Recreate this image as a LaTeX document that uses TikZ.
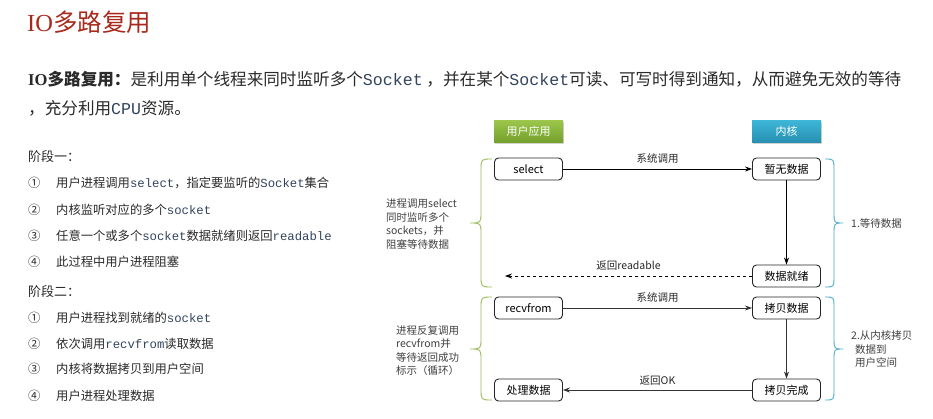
\documentclass[tikz,border=0pt]{standalone}
\usepackage{fontspec}
\setmainfont{Noto Sans CJK SC}
\newfontfamily\serifl{Liberation Serif}
\setmonofont{Liberation Mono}
\usetikzlibrary{arrows.meta,shadows}
\definecolor{titlered}{HTML}{A82A1C}
\definecolor{bodytext}{HTML}{2A2A2A}
\definecolor{codeblue}{HTML}{33445E}
\definecolor{sidegray}{HTML}{404040}
\definecolor{bracegreen}{HTML}{9BBB59}
\definecolor{braceblue}{HTML}{4BACC6}
\definecolor{greentop}{HTML}{9DC74B}
\definecolor{greenbot}{HTML}{74A02C}
\definecolor{bluetop}{HTML}{3EB7D8}
\definecolor{bluebot}{HTML}{2790B2}
\newcommand{\mono}[1]{{\ttfamily\color{codeblue}#1}}
\tikzset{
  txt/.style={anchor=west, inner sep=0pt, text=bodytext},
  listfont/.style={font=\fontsize{12.3}{15}\selectfont},
  header/.style={minimum width=69pt, minimum height=22pt, inner sep=0pt, text=white,
    font=\fontsize{11}{13}\selectfont, drop shadow={shadow xshift=1pt, shadow yshift=-1.5pt, opacity=0.35}},
  greenhdr/.style={header, top color=greentop, bottom color=greenbot},
  bluehdr/.style={header, top color=bluetop, bottom color=bluebot},
  procbox/.style={draw=black!85, line width=0.9pt, rounded corners=4pt, fill=white,
    minimum width=68pt, minimum height=22pt, inner sep=0pt, font=\fontsize{11}{13}\selectfont},
  callarrow/.style={-{Stealth[length=7pt,width=5pt]}, line width=0.8pt},
  lbl/.style={font=\fontsize{10.5}{12}\selectfont, inner sep=0pt, text=black!85},
  side/.style={font=\fontsize{10.5}{13.5}\selectfont, inner sep=0pt, align=left, text=sidegray},
  brace/.style={line width=0.9pt}
}
\begin{document}
\begin{tikzpicture}[x=1pt,y=-1pt]
\useasboundingbox[fill=white] (0,0) rectangle (933,418);

% title and paragraph
\node[txt, text=titlered, font=\fontsize{24.5}{28}\selectfont] (title) at (27,22) {{\serifl IO}多路复用};
\node[txt, font=\fontsize{16.6}{20}\selectfont] (p1) at (28,79)
  {\textbf{{\serifl\bfseries IO}多路复用：}是利用单个线程来同时监听多个\mono{Socket} ，并在某个\mono{Socket}可读、可写时得到通知，从而避免无效的等待};
\node[txt, font=\fontsize{16.6}{20}\selectfont] (p2) at (28,108) {，充分利用\mono{CPU}资源。};

% phase one
\node[txt, font=\fontsize{13}{15}\selectfont] (ph1) at (28,157) {阶段一：};
\node[txt, listfont] (n11) at (28,183) {①};
\node[txt, listfont] (t11) at (56,183) {用户进程调用\mono{select}，指定要监听的\mono{Socket}集合};
\node[txt, listfont] (n12) at (28,210) {②};
\node[txt, listfont] (t12) at (56,210) {内核监听对应的多个\mono{socket}};
\node[txt, listfont] (n13) at (28,236) {③};
\node[txt, listfont] (t13) at (56,236) {任意一个或多个\mono{socket}数据就绪则返回\mono{readable}};
\node[txt, listfont] (n14) at (28,262) {④};
\node[txt, listfont] (t14) at (56,262) {此过程中用户进程阻塞};

% phase two
\node[txt, font=\fontsize{13}{15}\selectfont] (ph2) at (28,292) {阶段二：};
\node[txt, listfont] (n21) at (28,318) {①};
\node[txt, listfont] (t21) at (56,318) {用户进程找到就绪的\mono{socket}};
\node[txt, listfont] (n22) at (28,344) {②};
\node[txt, listfont] (t22) at (56,344) {依次调用\mono{recvfrom}读取数据};
\node[txt, listfont] (n23) at (28,369) {③};
\node[txt, listfont] (t23) at (56,369) {内核将数据拷贝到用户空间};
\node[txt, listfont] (n24) at (28,396) {④};
\node[txt, listfont] (t24) at (56,396) {用户进程处理数据};

% headers
\node[greenhdr] (user) at (528.5,131) {用户应用};
\node[bluehdr] (kernel) at (786.5,131) {内核};

% stage 1 boxes
\node[procbox] (select) at (528.5,169) {select};
\node[procbox] (nodata) at (786.5,169) {暂无数据};
\node[procbox] (ready) at (786.5,276) {数据就绪};
\coordinate (retend) at (505,276);

\draw[callarrow] (select) -- node[lbl, above=5pt] (l1) {系统调用} (nodata);
\draw[callarrow] (nodata) -- (ready);
\draw[callarrow, dashed, dash pattern=on 3.5pt off 2.5pt] (ready) -- node[lbl, above=5pt] (l2) {返回readable} (retend);

% stage 2 boxes
\node[procbox] (recv) at (528.5,308) {recvfrom};
\node[procbox] (copy) at (786.5,308) {拷贝数据};
\node[procbox] (done) at (786.5,390) {拷贝完成};
\node[procbox] (proc) at (528.5,390) {处理数据};

\draw[callarrow, black!80] (recv) -- node[lbl, above=5pt] (l3) {系统调用} (copy);
\draw[callarrow, black!80] (copy) -- (done);
\draw[callarrow, black!80] (done) -- node[lbl, above=4pt] (l4) {返回OK} (proc);

% braces
\draw[brace, bracegreen] (492,159) .. controls (481,159) .. (481,170) -- (481,212)
  .. controls (481,223) .. (470,223) .. controls (481,223) .. (481,234) -- (481,276)
  .. controls (481,287) .. (492,287);
\draw[brace, braceblue] (825,159) .. controls (834,159) .. (834,170) -- (834,212)
  .. controls (834,223) .. (843,223) .. controls (834,223) .. (834,234) -- (834,276)
  .. controls (834,287) .. (825,287);
\draw[brace, bracegreen] (492,297) .. controls (481,297) .. (481,308) -- (481,338)
  .. controls (481,349) .. (470,349) .. controls (481,349) .. (481,360) -- (481,389)
  .. controls (481,400) .. (492,400);
\draw[brace, braceblue] (825,297) .. controls (834,297) .. (834,308) -- (834,338)
  .. controls (834,349) .. (843,349) .. controls (834,349) .. (834,360) -- (834,389)
  .. controls (834,400) .. (825,400);

% side notes
\node[side, anchor=west] (s1) at (386,224) {进程调用select\\同时监听多个\\sockets，并\\阻塞等待数据};
\node[side, anchor=west] (s2) at (396,350.5) {进程反复调用\\recvfrom并\\等待返回成功\\标示（循环）};
\node[side, anchor=west] (s3) at (851,223) {1.等待数据};
\node[side, anchor=west] (s4) at (851,349.5) {2.从内核拷贝\\\hspace{4pt}数据到\\\hspace{4pt}用户空间};
\end{tikzpicture}
\end{document}
